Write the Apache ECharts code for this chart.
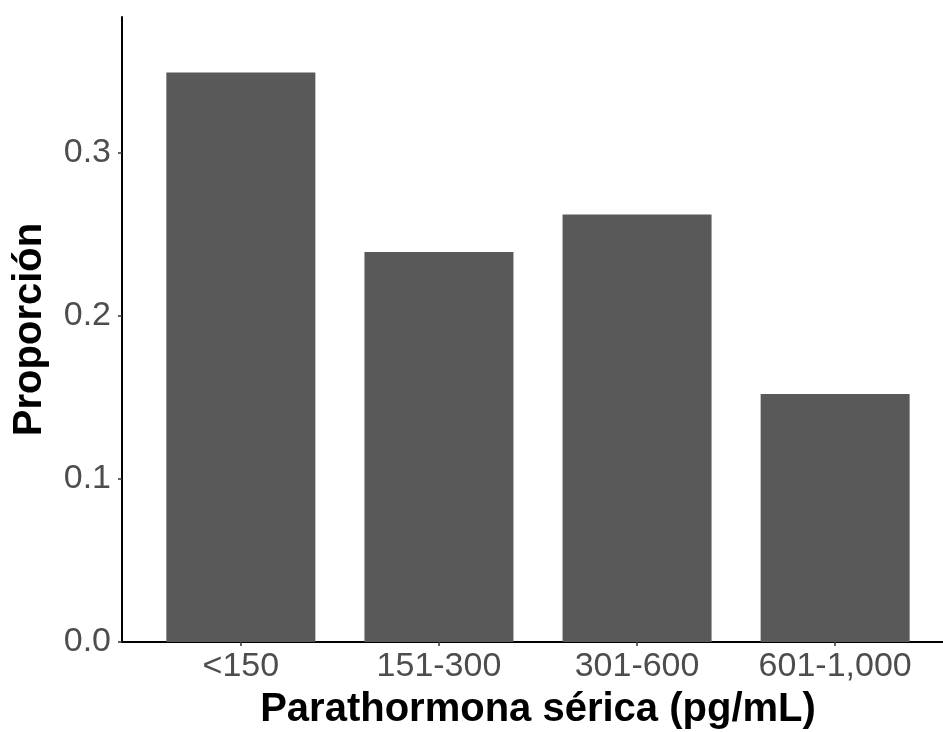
<!DOCTYPE html>
<html>
<head>
<meta charset="utf-8">
<script src="https://cdn.jsdelivr.net/npm/echarts@6/dist/echarts.min.js"></script>
<style>
  html, body { margin: 0; padding: 0; background: #fff; }
  #chart { width: 943px; height: 732px; }
</style>
</head>
<body>
<div id="chart"></div>
<script>
var categories = ['<150', '151-300', '301-600', '601-1,000'];
var proportions = [0.349, 0.239, 0.262, 0.152];
var yTicks = [0, 0.1, 0.2, 0.3];
var xPositions = categories.map(function (c, i) { return i + 1; });

var myChart = echarts.init(document.getElementById('chart'));

var option = {
    backgroundColor: '#ffffff',
    animation: false,
    grid: {
        left: 122,
        right: -11,
        top: 17,
        bottom: 90,
        outerBoundsMode: 'none'
    },
    xAxis: {
        type: 'value',
        min: 0.4,
        max: 4.6,
        name: 'Parathormona sérica (pg/mL)',
        nameLocation: 'middle',
        nameGap: 48,
        nameTextStyle: {
            fontFamily: 'Liberation Sans',
            fontWeight: 'bold',
            fontSize: 40,
            color: '#000'
        },
        splitLine: { show: false },
        axisLine: { lineStyle: { color: '#000', width: 2 } },
        axisTick: {
            customValues: xPositions,
            length: 4,
            lineStyle: { color: '#333', width: 1.5 }
        },
        axisLabel: {
            customValues: xPositions,
            margin: 8,
            fontFamily: 'Liberation Sans',
            fontSize: 34,
            color: '#4d4d4d',
            formatter: function (v) { return categories[Math.round(v) - 1]; }
        }
    },
    yAxis: {
        type: 'value',
        min: 0,
        max: 0.383,
        name: 'Proporción',
        nameLocation: 'middle',
        nameGap: 72,
        nameTextStyle: {
            fontFamily: 'Liberation Sans',
            fontWeight: 'bold',
            fontSize: 40,
            color: '#000'
        },
        splitLine: { show: false },
        axisLine: { show: true, lineStyle: { color: '#000', width: 2 } },
        axisTick: {
            show: true,
            customValues: yTicks,
            length: 4,
            lineStyle: { color: '#333', width: 1.5 }
        },
        axisLabel: {
            customValues: yTicks,
            margin: 11,
            fontFamily: 'Liberation Sans',
            fontSize: 34,
            color: '#4d4d4d',
            formatter: function (v) { return v.toFixed(1); }
        }
    },
    series: [
        {
            type: 'bar',
            barWidth: 149,
            itemStyle: { color: '#595959' },
            data: categories.map(function (c, i) { return [xPositions[i], proportions[i]]; })
        }
    ]
};

myChart.setOption(option);
</script>
</body>
</html>
